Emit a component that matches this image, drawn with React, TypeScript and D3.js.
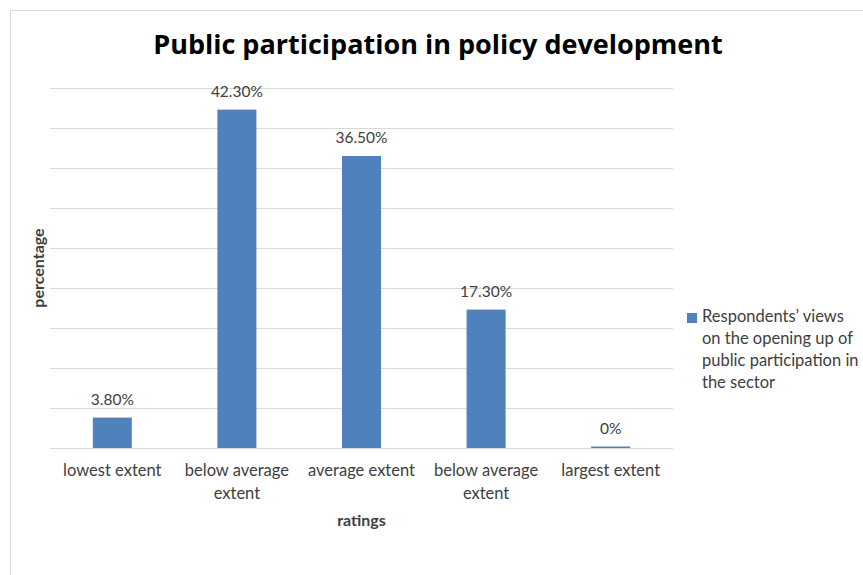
import React from "react";
import * as d3 from "d3";

const categories: string[][] = [
  ["lowest extent"],
  ["below average", "extent"],
  ["average extent"],
  ["below average", "extent"],
  ["largest extent"],
];
const values: number[] = [3.8, 42.3, 36.5, 17.3, 0];
const valueLabels: string[] = ["3.80%", "42.30%", "36.50%", "17.30%", "0%"];
const gridTicks: number[] = [0, 5, 10, 15, 20, 25, 30, 35, 40, 45];
const title = "Public participation in policy development";
const legendLines: string[] = [
  "Respondents\u2019 views",
  "on the opening up of",
  "public participation in",
  "the sector",
];

const W = 863;
const H = 575;
const plot = { left: 50, right: 673, top: 88, bottom: 448 };
const FONT = "Lato, 'Open Sans', sans-serif";
const BAR = "#4F81BD";
const TXT = "#404040";

export default function App() {
  const idx = values.map((_, i) => String(i));
  const x = d3
    .scaleBand<string>()
    .domain(idx)
    .range([plot.left, plot.right])
    .paddingInner(0.687)
    .paddingOuter(0.3435);
  const y = d3.scaleLinear().domain([0, 45]).range([plot.bottom, plot.top]);

  return (
    <svg
      width={W}
      height={H}
      style={{ position: "absolute", left: 0, top: 0, display: "block", background: "#fff" }}
      fontFamily={FONT}
    >
      <rect x={10.5} y={10.5} width={W} height={H} fill="#fff" stroke="#D9D9D9" strokeWidth={1} />
      <text
        x={438}
        y={54}
        textAnchor="middle"
        fontSize={27}
        fontWeight="bold"
        fill="#000"
        fontFamily="'Open Sans', Lato, sans-serif"
      >
        {title}
      </text>
      {gridTicks.map((t) => (
        <line
          key={t}
          x1={plot.left}
          x2={plot.right}
          y1={Math.round(y(t)) + 0.5}
          y2={Math.round(y(t)) + 0.5}
          stroke="#D9D9D9"
          strokeWidth={1}
        />
      ))}
      {values.map((v, i) => {
        const bx = x(String(i))!;
        const top = y(v);
        const h = Math.max(plot.bottom - top, 1.5);
        return (
          <g key={i}>
            <rect x={bx} y={plot.bottom - h} width={x.bandwidth()} height={h} fill={BAR} />
            <text
              x={bx + x.bandwidth() / 2}
              y={plot.bottom - h - 13}
              textAnchor="middle"
              fontSize={15.5}
              fill={TXT}
            >
              {valueLabels[i]}
            </text>
          </g>
        );
      })}
      {categories.map((lines, i) => {
        const cx = x(String(i))! + x.bandwidth() / 2;
        return (
          <text key={i} textAnchor="middle" fontSize={16.5} fill={TXT}>
            {lines.map((l, j) => (
              <tspan key={j} x={cx} y={476 + j * 22.5}>
                {l}
              </tspan>
            ))}
          </text>
        );
      })}
      <text x={(plot.left + plot.right) / 2} y={526} textAnchor="middle" fontSize={16} fontWeight="bold" fill={TXT}>
        ratings
      </text>
      <text
        transform={`translate(44, ${(plot.top + plot.bottom) / 2}) rotate(-90)`}
        textAnchor="middle"
        fontSize={16}
        fontWeight="bold"
        fill={TXT}
      >
        percentage
      </text>
      <rect x={687} y={313} width={10} height={10} fill={BAR} />
      <text fontSize={16.5} fill={TXT}>
        {legendLines.map((l, j) => (
          <tspan key={j} x={702} y={322 + j * 22}>
            {l}
          </tspan>
        ))}
      </text>
    </svg>
  );
}
